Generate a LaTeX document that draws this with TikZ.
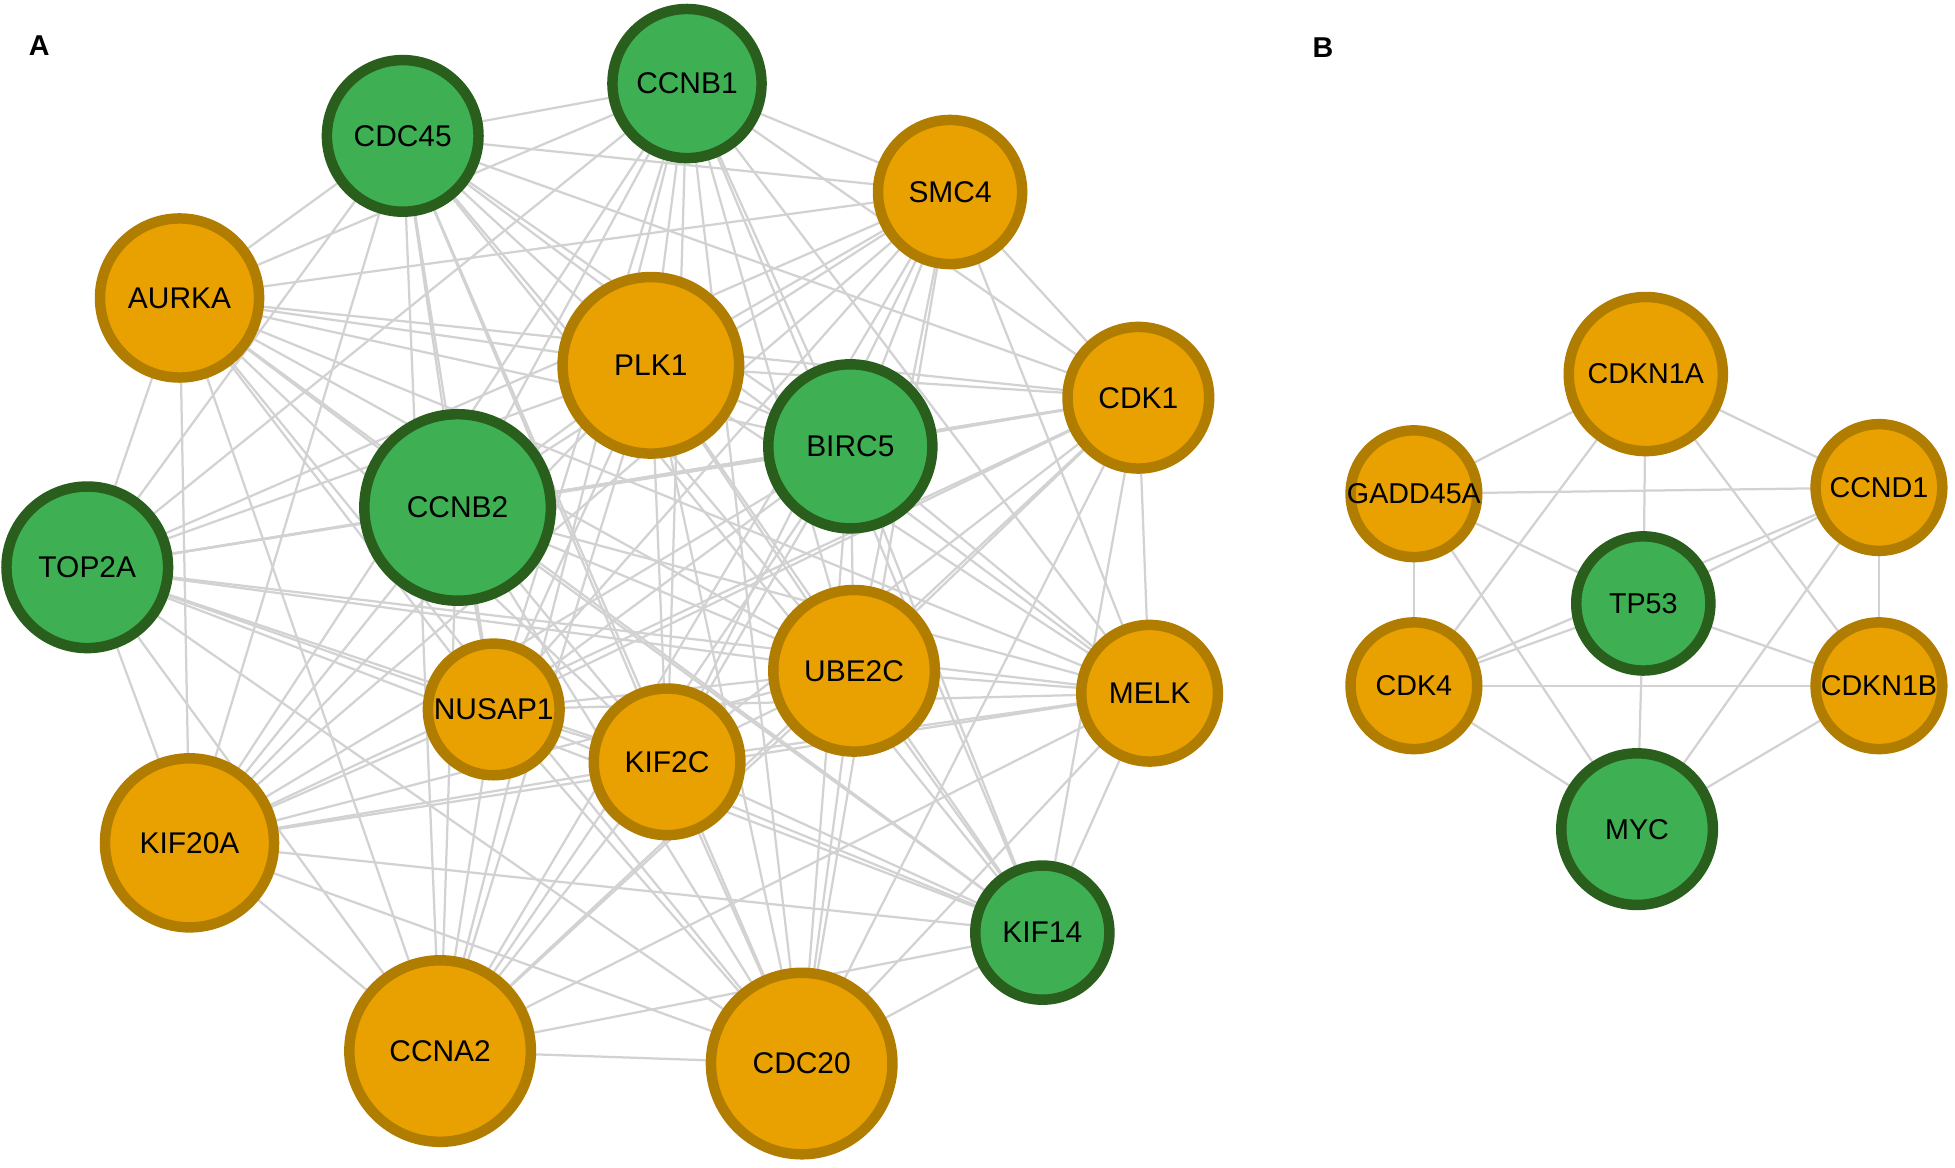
\documentclass[tikz,border=0pt]{standalone}
\usepackage{fontspec}
\setmainfont{Liberation Sans}
\usetikzlibrary{backgrounds}
\definecolor{ofill}{RGB}{232,161,0}
\definecolor{oborder}{RGB}{176,125,0}
\definecolor{gfill}{RGB}{62,176,83}
\definecolor{gborder}{RGB}{42,94,28}
\definecolor{edgegray}{RGB}{210,210,210}
\tikzset{
  onode/.style={circle, draw=oborder, fill=ofill, line width=4.2pt, inner sep=0pt, outer sep=0pt},
  gnode/.style={circle, draw=gborder, fill=gfill, line width=4.2pt, inner sep=0pt, outer sep=0pt},
  lblA/.style={font=\fontsize{12}{14}\selectfont, text=black, inner sep=0pt},
  lblB/.style={font=\fontsize{11.5}{13}\selectfont, text=black, inner sep=0pt},
  edge/.style={draw=edgegray, line width=0.9pt},
  panel/.style={font=\fontsize{11.5}{13}\selectfont\bfseries, inner sep=0pt}
}
% #1 style, #2 label style, #3 name, #4 position, #5 outer radius (pt)
\newcommand\genenode[5]{\node[#1, minimum size={#5pt-4.2pt}, label={[#2]center:#3}] (#3) at (#4) {};}
\begin{document}
\begin{tikzpicture}[x=0.5pt,y=-0.5pt]
\useasboundingbox (0,0) rectangle (1568,936);
% panel labels
\node[panel] (labA) at (31.5,37) {A};
\node[panel] (labB) at (1061,38) {B};
% ---- network A ----
\genenode{gnode}{lblA}{CCNB1}{551,67}{64}
\genenode{gnode}{lblA}{CDC45}{323,109}{65}
\genenode{onode}{lblA}{SMC4}{762,154}{62}
\genenode{onode}{lblA}{AURKA}{144,239}{68}
\genenode{onode}{lblA}{PLK1}{522,293}{75}
\genenode{onode}{lblA}{CDK1}{913,319}{61}
\genenode{gnode}{lblA}{BIRC5}{682,358}{70}
\genenode{gnode}{lblA}{CCNB2}{367,407}{79}
\genenode{gnode}{lblA}{TOP2A}{70,455}{69}
\genenode{onode}{lblA}{UBE2C}{685,538}{69}
\genenode{onode}{lblA}{NUSAP1}{396,569}{57}
\genenode{onode}{lblA}{MELK}{922,556}{59}
\genenode{onode}{lblA}{KIF2C}{535,611}{63}
\genenode{onode}{lblA}{KIF20A}{152,676}{72}
\genenode{gnode}{lblA}{KIF14}{836,748}{58}
\genenode{onode}{lblA}{CCNA2}{353,843}{77}
\genenode{onode}{lblA}{CDC20}{643,853}{77}
% ---- network B ----
\genenode{onode}{lblB}{CDKN1A}{1320,300}{66}
\genenode{onode}{lblB}{GADD45A}{1134,396}{55}
\genenode{onode}{lblB}{CCND1}{1507,391}{55}
\genenode{gnode}{lblB}{TP53}{1318,484}{58}
\genenode{onode}{lblB}{CDK4}{1134,550}{55}
\genenode{onode}{lblB}{CDKN1B}{1507,550}{55}
\genenode{gnode}{lblB}{MYC}{1313,665}{65}
% ---- edges ----
\begin{scope}[on background layer]
\def\omitpair{SMC4-KIF14}
\foreach \a [count=\i] in {CCNB1,CDC45,SMC4,AURKA,PLK1,CDK1,BIRC5,CCNB2,TOP2A,UBE2C,NUSAP1,MELK,KIF2C,KIF20A,KIF14,CCNA2,CDC20}{
  \foreach \b [count=\j] in {CCNB1,CDC45,SMC4,AURKA,PLK1,CDK1,BIRC5,CCNB2,TOP2A,UBE2C,NUSAP1,MELK,KIF2C,KIF20A,KIF14,CCNA2,CDC20}{
    \ifnum\j>\i
      \edef\thispair{\a-\b}%
      \ifx\thispair\omitpair\else
        \draw[edge] (\a) -- (\b);
      \fi
    \fi
  }
}
\foreach \a/\b in {CDKN1A/GADD45A, CDKN1A/CCND1, CDKN1A/TP53, CDKN1A/CDK4, CDKN1A/CDKN1B,
  GADD45A/CCND1, GADD45A/TP53, GADD45A/CDK4, GADD45A/MYC,
  CCND1/TP53, CCND1/CDK4, CCND1/CDKN1B, CCND1/MYC,
  TP53/CDK4, TP53/CDKN1B, TP53/MYC, CDK4/CDKN1B, CDK4/MYC, CDKN1B/MYC}{
  \draw[edge] (\a) -- (\b);
}
\end{scope}
\end{tikzpicture}
\end{document}
